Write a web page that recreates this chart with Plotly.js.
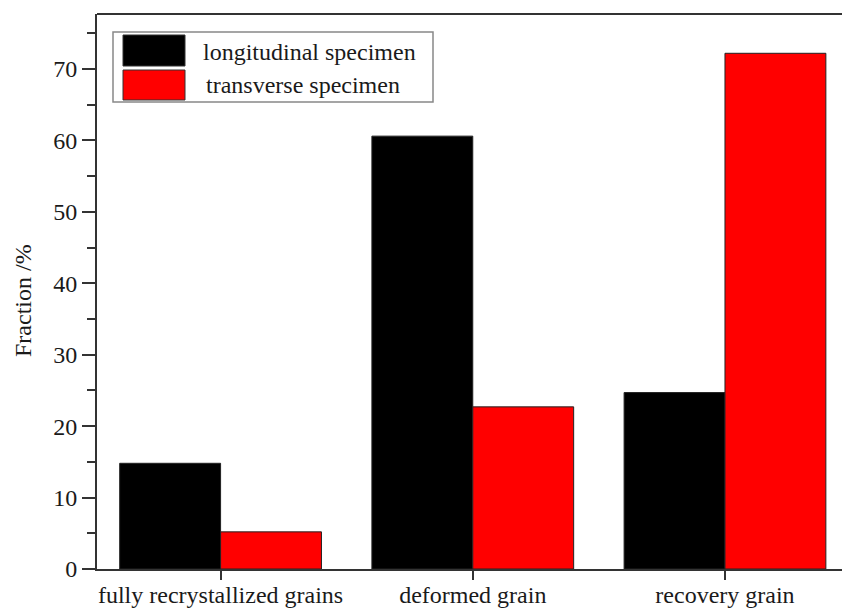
<!DOCTYPE html>
<html>
<head>
<meta charset="utf-8">
<script src="https://cdn.plot.ly/plotly-3.0.1.min.js"></script>
<style>
html,body{margin:0;padding:0;overflow:hidden;background:#fff;}
#chart{width:842px;height:609px;}
</style>
</head>
<body>
<div id="chart"></div>
<script>
const categories = ["fully recrystallized grains", "deformed grain", "recovery grain"];
const longitudinal = [14.8, 60.6, 24.7];
const transverse = [5.2, 22.7, 72.2];
const seriesNames = ["longitudinal specimen", "transverse specimen"];
const yTickVals = [0, 10, 20, 30, 40, 50, 60, 70];

const FONT = "Liberation Serif";
const ML = 97, MT = 14, MB = 40, W = 842, H = 609, MR = 0;
const PW = W - ML - MR, PH = H - MT - MB;
const px = x => (x - ML) / PW;
const py = y => (H - MB - y) / PH;

const traces = [
  {type: 'bar', x: categories, y: longitudinal, name: seriesNames[0],
   marker: {color: '#000000', line: {color: '#222', width: 1}}, showlegend: false},
  {type: 'bar', x: categories, y: transverse, name: seriesNames[1],
   marker: {color: '#ff0000', line: {color: '#222', width: 1}}, showlegend: false}
];

const shapes = [
  {type: 'rect', xref: 'paper', yref: 'paper', x0: px(113), x1: px(433), y0: py(102), y1: py(32),
   line: {color: '#888', width: 1.5}, fillcolor: 'rgba(0,0,0,0)'},
  {type: 'rect', xref: 'paper', yref: 'paper', x0: px(123), x1: px(185), y0: py(66), y1: py(35),
   line: {color: '#333', width: 1}, fillcolor: '#000000'},
  {type: 'rect', xref: 'paper', yref: 'paper', x0: px(123), x1: px(185), y0: py(100), y1: py(70),
   line: {color: '#333', width: 1}, fillcolor: '#ff0000'},
  {type: 'line', xref: 'paper', yref: 'paper', x0: 0, x1: 1, y0: 1, y1: 1,
   line: {color: '#333', width: 2}}
];

const annotations = [
  {xref: 'paper', yref: 'paper', x: px(201), y: py(52), xanchor: 'left', yanchor: 'middle',
   text: seriesNames[0], showarrow: false, font: {family: FONT, size: 24, color: '#1a1a1a'}},
  {xref: 'paper', yref: 'paper', x: px(204), y: py(85), xanchor: 'left', yanchor: 'middle',
   text: seriesNames[1], showarrow: false, font: {family: FONT, size: 24, color: '#1a1a1a'}},
  {xref: 'paper', yref: 'paper', x: px(23), y: py(301), xanchor: 'center', yanchor: 'middle',
   textangle: -90, text: 'Fraction /%', showarrow: false, font: {family: FONT, size: 24, color: '#1a1a1a'}}
];

const layout = {
  width: W, height: H,
  margin: {l: ML, r: MR, t: MT, b: MB, pad: 0},
  paper_bgcolor: '#ffffff', plot_bgcolor: '#ffffff',
  barmode: 'group', bargap: 0.2, bargroupgap: 0,
  showlegend: false,
  font: {family: FONT, size: 24, color: '#1a1a1a'},
  xaxis: {
    type: 'category', range: [-0.49, 2.464],
    showline: true, linecolor: '#333', linewidth: 2, mirror: false,
    ticks: 'outside', ticklen: 9, tickwidth: 2, tickcolor: '#333',
    ticklabelstandoff: -6,
    showgrid: false, zeroline: false,
    tickfont: {family: FONT, size: 24, color: '#1a1a1a'}
  },
  yaxis: {
    range: [0, 77.7],
    tickvals: yTickVals,
    showline: true, linecolor: '#333', linewidth: 2,
    ticks: 'outside', ticklen: 13, tickwidth: 2, tickcolor: '#333',
    minor: {dtick: 5, ticks: 'outside', ticklen: 8, tickwidth: 2, tickcolor: '#333', showgrid: false},
    showgrid: false, zeroline: false,
    tickfont: {family: FONT, size: 24, color: '#1a1a1a'}
  },
  shapes: shapes,
  annotations: annotations
};

Plotly.newPlot('chart', traces, layout, {displayModeBar: false, staticPlot: true});
</script>
</body>
</html>
